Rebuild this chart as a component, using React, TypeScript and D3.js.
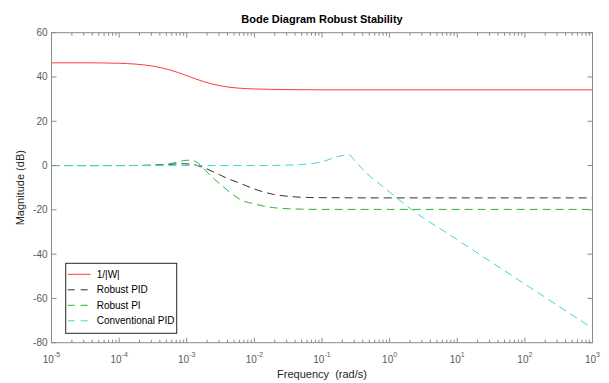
import React from "react"
import * as d3 from "d3"

// log10 of frequency (rad/s) and magnitude (dB)
const logW = [-5, -4.5, -4, -3.75, -3.5, -3.25, -3, -2.75, -2.5, -2.25, -2, -1.5, -1, 0, 1, 2, 3]
const invW = [46.4, 46.4, 46.2, 45.8, 44.9, 43.2, 40.6, 37.9, 36.0, 35.0, 34.6, 34.3, 34.2, 34.2, 34.2, 34.2, 34.2]

const logPID = [-5, -4, -3.6, -3.3, -3.1, -2.95, -2.8, -2.56, -2.4, -2.21, -2, -1.72, -1.5, -1.22, -1, 0, 1, 2, 3]
const robustPID = [0, 0, 0.1, 0.5, 0.8, 0.7, -0.4, -3.5, -5.8, -8.0, -10.6, -13.0, -13.9, -14.4, -14.5, -14.6, -14.6, -14.6, -14.6]

const logPI = [-5, -4, -3.6, -3.3, -3.15, -3.0, -2.9, -2.8, -2.65, -2.46, -2.3, -2.21, -2.02, -1.72, -1.5, -1, 0, 3]
const robustPI = [0, 0, 0.1, 0.6, 1.4, 2.4, 2.2, 0.2, -4.5, -9.6, -13.5, -15.3, -17.2, -19.0, -19.5, -19.8, -19.8, -19.8]

const logConv = [-5, -2, -1.5, -1.3, -1.1, -1, -0.85, -0.7, -0.61, -0.5, -0.34, -0.16, 0, 0.35, 1, 2, 3]
const convPID = [0, 0, 0.2, 0.5, 1.1, 1.6, 3.3, 4.5, 5.0, 1.6, -3.5, -8, -12, -20.4, -33.5, -53.5, -73.5]

const yTicks = [-80, -60, -40, -20, 0, 20, 40, 60]
const xExponents = [-5, -4, -3, -2, -1, 0, 1, 2, 3]
const minorMultipliers = [2, 3, 4, 5, 6, 7, 8, 9]

const series = [
  { name: "1/|W|", x: logW, y: invW, color: "#ff3b3b", dash: null },
  { name: "Robust PID", x: logPID, y: robustPID, color: "#333333", dash: "8,5" },
  { name: "Robust PI", x: logPI, y: robustPI, color: "#2fb52f", dash: "8,5" },
  { name: "Conventional PID", x: logConv, y: convPID, color: "#3fd6d6", dash: "8,5" },
]

const W = 609
const H = 383
const M = { left: 51.5, right: 16.5, top: 32.7, bottom: 40.3 }
const FONT = "'Liberation Sans', Arial, Helvetica, sans-serif"
const AXIS = "#8a8a8a"
const LABEL = "#5a5a5a"

export default function App() {
  const innerW = W - M.left - M.right
  const innerH = H - M.top - M.bottom
  const x = d3.scaleLog().domain([1e-5, 1e3]).range([M.left, M.left + innerW])
  const y = d3.scaleLinear().domain([-80, 60]).range([M.top + innerH, M.top])

  const line = d3
    .line<[number, number]>()
    .x((d) => x(Math.pow(10, d[0])))
    .y((d) => y(d[1]))
    .curve(d3.curveMonotoneX)

  const minorTicks: number[] = []
  xExponents.slice(0, -1).forEach((e) => minorMultipliers.forEach((m) => minorTicks.push(m * Math.pow(10, e))))

  const x0 = M.left
  const x1 = M.left + innerW
  const y0 = M.top + innerH
  const y1 = M.top

  // legend
  const lg = { x: 65.7, y: 263.3, w: 111, h: 70, row: 15.5 }

  return (
    <svg width={W} height={H} style={{ position: "fixed", left: 0, top: 0, background: "#fff" }} fontFamily={FONT}>
      <rect x={0} y={0} width={W} height={H} fill="#fff" />
      <defs>
        <clipPath id="plotClip">
          <rect x={x0} y={y1} width={innerW} height={innerH} />
        </clipPath>
      </defs>

      {/* curves */}
      <g clipPath="url(#plotClip)">
        {series.map((s) => (
          <path
            key={s.name}
            d={line(s.x.map((v, i) => [v, s.y[i]] as [number, number])) ?? ""}
            fill="none"
            stroke={s.color}
            strokeWidth={1}
            strokeDasharray={s.dash ?? undefined}
          />
        ))}
      </g>

      {/* box */}
      <rect x={x0} y={y1} width={innerW} height={innerH} fill="none" stroke={AXIS} strokeWidth={1} />

      {/* y ticks */}
      {yTicks.map((t) => (
        <g key={t}>
          <line x1={x0} x2={x0 + 5} y1={y(t)} y2={y(t)} stroke={AXIS} />
          <line x1={x1} x2={x1 - 5} y1={y(t)} y2={y(t)} stroke={AXIS} />
          <text x={x0 - 4} y={y(t) + 3.5} textAnchor="end" fontSize={10} fill={LABEL}>
            {t}
          </text>
        </g>
      ))}

      {/* x major ticks */}
      {xExponents.map((e) => {
        const px = x(Math.pow(10, e))
        return (
          <g key={e}>
            <line x1={px} x2={px} y1={y0} y2={y0 - 5} stroke={AXIS} />
            <line x1={px} x2={px} y1={y1} y2={y1 + 5} stroke={AXIS} />
            <text x={px} y={363} textAnchor="middle" fontSize={10} fill={LABEL}>
              10
              <tspan fontSize={7} dy={-6}>
                {e}
              </tspan>
            </text>
          </g>
        )
      })}

      {/* x minor ticks */}
      {minorTicks.map((v, i) => (
        <g key={i}>
          <line x1={x(v)} x2={x(v)} y1={y0} y2={y0 - 3} stroke={AXIS} />
          <line x1={x(v)} x2={x(v)} y1={y1} y2={y1 + 3} stroke={AXIS} />
        </g>
      ))}

      {/* titles */}
      <text x={(x0 + x1) / 2} y={23} textAnchor="middle" fontSize={11} fontWeight="bold" fill="#000">
        Bode Diagram Robust Stability
      </text>
      <text x={(x0 + x1) / 2} y={378} textAnchor="middle" fontSize={11} fill="#262626" xmlSpace="preserve">
        Frequency  (rad/s)
      </text>
      <text
        transform={`translate(24,${(y0 + y1) / 2}) rotate(-90)`}
        textAnchor="middle"
        fontSize={11}
        fill="#262626"
      >
        Magnitude (dB)
      </text>

      {/* legend */}
      <rect x={lg.x} y={lg.y} width={lg.w} height={lg.h} fill="#fff" stroke="#262626" strokeWidth={1} />
      {series.map((s, i) => {
        const ly = lg.y + 11 + i * lg.row
        return (
          <g key={s.name}>
            <line x1={lg.x + 2} x2={lg.x + 25} y1={ly} y2={ly} stroke={s.color} strokeDasharray={s.dash ? "7,6" : undefined} />
            <text x={lg.x + 31} y={ly + 3.5} fontSize={10} fill="#000">
              {s.name}
            </text>
          </g>
        )
      })}
    </svg>
  )
}
